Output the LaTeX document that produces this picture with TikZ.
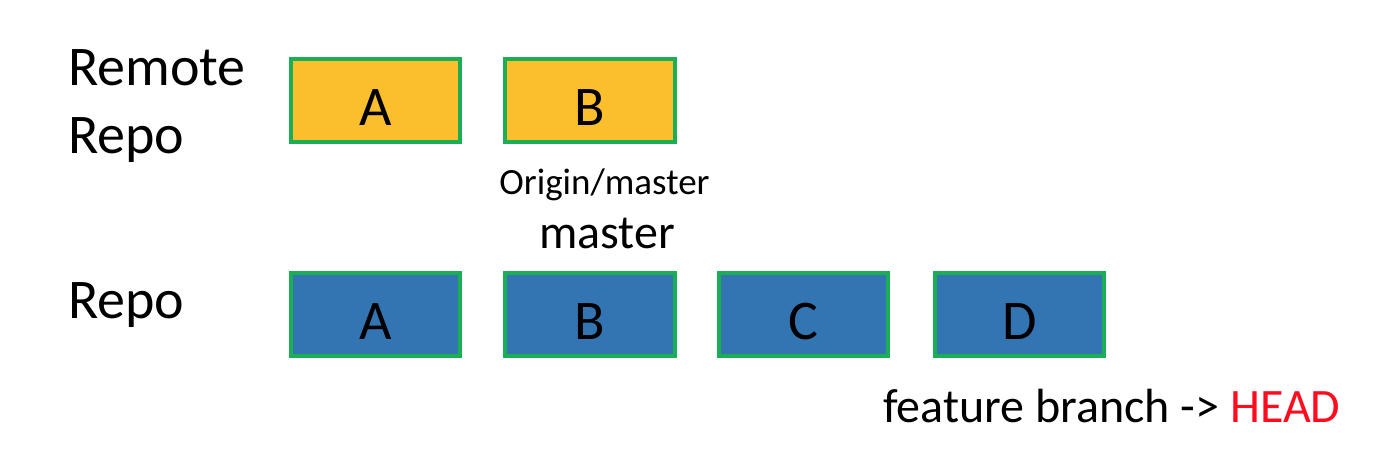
\documentclass[tikz,border=0pt]{standalone}
\usepackage{fontspec}
\setmainfont{Carlito}
\definecolor{boxgold}{HTML}{FBBF2D}
\definecolor{boxblue}{HTML}{3375B3}
\definecolor{boxgreen}{HTML}{1AAF54}
\definecolor{headred}{HTML}{FF0D1F}
\tikzset{
  commit/.style={draw=boxgreen, line width=4pt, minimum width=169.5pt, minimum height=83.5pt,
    inner sep=0pt, text height=49pt, text depth=0pt, font=\fontsize{56}{60}\selectfont},
  remotec/.style={commit, fill=boxgold},
  localc/.style={commit, fill=boxblue},
  lbl/.style={inner sep=0pt, font=\fontsize{56}{68}\selectfont},
}
\begin{document}
\begin{tikzpicture}[x=1pt,y=-1pt]
\useasboundingbox (0,0) rectangle (1394,466);
\node[lbl, anchor=base west, align=left] (remote) at (68,153) {Remote\\Repo};
\node[lbl, anchor=base west] (repo) at (68,318) {Repo};
\node[remotec] (rA) at (375.5,100.5) {A};
\node[remotec] (rB) at (590,100.5) {B};
\node[localc] (lA) at (375.5,314.5) {A};
\node[localc] (lB) at (590,314.5) {B};
\node[localc] (lC) at (803.5,314.5) {C};
\node[localc] (lD) at (1019.5,314.5) {D};
\node[inner sep=0pt, anchor=base, font=\fontsize{37}{40}\selectfont] (om) at (604.5,194) {Origin/master};
\node[inner sep=0pt, anchor=base, font=\fontsize{48}{52}\selectfont] (ms) at (607,248) {master};
\node[inner sep=0pt, anchor=base west, font=\fontsize{48}{50}\selectfont] (fb) at (883,422) {feature branch -> \textcolor{headred}{HEAD}};
\end{tikzpicture}
\end{document}
